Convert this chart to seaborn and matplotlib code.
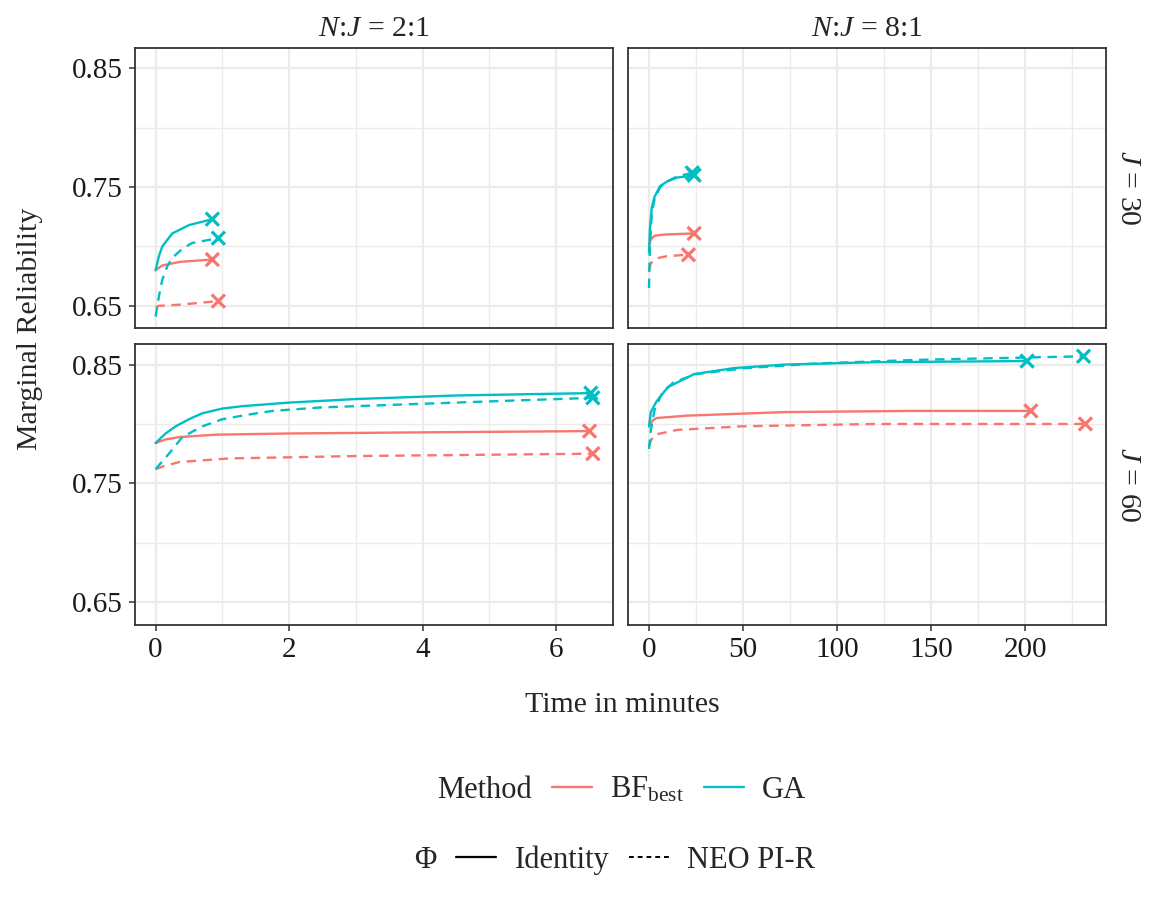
import numpy as np
import pandas as pd
import matplotlib.pyplot as plt
import seaborn as sns
from matplotlib.lines import Line2D
from matplotlib.ticker import MultipleLocator

# ---- data (time in minutes, marginal reliability) ----
# N:J = 2:1, J = 30
t_21_30_bf_id = [0, 0.1, 0.36, 0.6, 0.85]
r_21_30_bf_id = [0.680, 0.684, 0.687, 0.688, 0.689]
t_21_30_bf_neo = [0, 0.05, 0.36, 0.94]
r_21_30_bf_neo = [0.649, 0.650, 0.651, 0.654]
t_21_30_ga_id = [0, 0.05, 0.1, 0.25, 0.5, 0.85]
r_21_30_ga_id = [0.680, 0.692, 0.700, 0.711, 0.718, 0.723]
t_21_30_ga_neo = [0, 0.05, 0.1, 0.18, 0.26, 0.4, 0.55, 0.75, 0.94]
r_21_30_ga_neo = [0.641, 0.658, 0.672, 0.684, 0.691, 0.698, 0.703, 0.705, 0.707]

# N:J = 8:1, J = 30
t_81_30_bf_id = [0, 1, 3, 8, 24]
r_81_30_bf_id = [0.700, 0.706, 0.709, 0.710, 0.711]
t_81_30_bf_neo = [0, 1, 4, 10, 21]
r_81_30_bf_neo = [0.680, 0.686, 0.690, 0.692, 0.693]
t_81_30_ga_id = [0, 0.5, 1.5, 3, 6, 10, 15, 24]
r_81_30_ga_id = [0.695, 0.715, 0.733, 0.742, 0.751, 0.755, 0.758, 0.760]
t_81_30_ga_neo = [0, 0.5, 1.5, 3, 6, 10, 15, 23]
r_81_30_ga_neo = [0.665, 0.700, 0.728, 0.740, 0.750, 0.755, 0.759, 0.762]

# N:J = 2:1, J = 60
t_21_60_bf_id = [0, 0.15, 0.36, 0.9, 2.0, 4.1, 6.5]
r_21_60_bf_id = [0.784, 0.787, 0.789, 0.791, 0.792, 0.793, 0.794]
t_21_60_bf_neo = [0, 0.15, 0.36, 1.1, 3.0, 6.55]
r_21_60_bf_neo = [0.762, 0.765, 0.768, 0.771, 0.773, 0.775]
t_21_60_ga_id = [0, 0.15, 0.3, 0.5, 0.7, 1.0, 1.3, 2.0, 3.0, 4.5, 6.52]
r_21_60_ga_id = [0.784, 0.792, 0.798, 0.804, 0.809, 0.813, 0.815, 0.818, 0.821, 0.824, 0.826]
t_21_60_ga_neo = [0, 0.2, 0.4, 0.7, 1.0, 1.4, 1.75, 2.5, 4.0, 5.5, 6.55]
r_21_60_ga_neo = [0.762, 0.775, 0.789, 0.798, 0.804, 0.808, 0.811, 0.814, 0.817, 0.820, 0.822]

# N:J = 8:1, J = 60
t_81_60_bf_id = [0, 2, 4, 20, 72, 140, 203]
r_81_60_bf_id = [0.798, 0.803, 0.805, 0.807, 0.810, 0.811, 0.811]
t_81_60_bf_neo = [0, 1, 3, 15, 49, 120, 232]
r_81_60_bf_neo = [0.781, 0.786, 0.791, 0.795, 0.798, 0.800, 0.800]
t_81_60_ga_id = [0, 1, 4, 10, 24, 45, 72, 120, 201]
r_81_60_ga_id = [0.798, 0.810, 0.819, 0.831, 0.842, 0.847, 0.850, 0.852, 0.853]
t_81_60_ga_neo = [0, 1, 3, 7, 13, 25, 51, 90, 143, 231]
r_81_60_ga_neo = [0.779, 0.795, 0.812, 0.826, 0.835, 0.842, 0.847, 0.851, 0.854, 0.857]

ratios = ["2:1", "8:1"]
items = [30, 60]
methods = ["BF", "GA"]
phis = ["Identity", "NEO PI-R"]
colors = {"BF": "#F8766D", "GA": "#00BFC4"}

series = {
    ("2:1", 30, "BF", "Identity"): (t_21_30_bf_id, r_21_30_bf_id),
    ("2:1", 30, "BF", "NEO PI-R"): (t_21_30_bf_neo, r_21_30_bf_neo),
    ("2:1", 30, "GA", "Identity"): (t_21_30_ga_id, r_21_30_ga_id),
    ("2:1", 30, "GA", "NEO PI-R"): (t_21_30_ga_neo, r_21_30_ga_neo),
    ("8:1", 30, "BF", "Identity"): (t_81_30_bf_id, r_81_30_bf_id),
    ("8:1", 30, "BF", "NEO PI-R"): (t_81_30_bf_neo, r_81_30_bf_neo),
    ("8:1", 30, "GA", "Identity"): (t_81_30_ga_id, r_81_30_ga_id),
    ("8:1", 30, "GA", "NEO PI-R"): (t_81_30_ga_neo, r_81_30_ga_neo),
    ("2:1", 60, "BF", "Identity"): (t_21_60_bf_id, r_21_60_bf_id),
    ("2:1", 60, "BF", "NEO PI-R"): (t_21_60_bf_neo, r_21_60_bf_neo),
    ("2:1", 60, "GA", "Identity"): (t_21_60_ga_id, r_21_60_ga_id),
    ("2:1", 60, "GA", "NEO PI-R"): (t_21_60_ga_neo, r_21_60_ga_neo),
    ("8:1", 60, "BF", "Identity"): (t_81_60_bf_id, r_81_60_bf_id),
    ("8:1", 60, "BF", "NEO PI-R"): (t_81_60_bf_neo, r_81_60_bf_neo),
    ("8:1", 60, "GA", "Identity"): (t_81_60_ga_id, r_81_60_ga_id),
    ("8:1", 60, "GA", "NEO PI-R"): (t_81_60_ga_neo, r_81_60_ga_neo),
}

rows = []
for (nj, j, m, phi), (ts, rs) in series.items():
    for t, r in zip(ts, rs):
        rows.append({"NJ": nj, "J": j, "Method": m, "Phi": phi, "Time": t, "Rel": r})
df = pd.DataFrame(rows)
ends = df.groupby(["NJ", "J", "Method", "Phi"], as_index=False).last()

# ---- style ----
sns.set_style("ticks")
plt.rcParams["font.family"] = ["Liberation Serif", "DejaVu Serif"]
plt.rcParams["mathtext.fontset"] = "custom"
plt.rcParams["mathtext.rm"] = "Liberation Serif"
plt.rcParams["mathtext.it"] = "Liberation Serif:italic"

FS = 21      # tick labels
FS_LAB = 21.5  # axis titles / strips
FS_LEG = 22

fig, axes = plt.subplots(2, 2, figsize=(11.53, 9.08), dpi=100, sharey=True, sharex="col")
fig.subplots_adjust(left=0.117, right=0.959, top=0.947, bottom=0.312, wspace=0.031, hspace=0.057)

for i, j in enumerate(items):
    for k, nj in enumerate(ratios):
        ax = axes[i, k]
        sub = df[(df["NJ"] == nj) & (df["J"] == j)]
        sub_end = ends[(ends["NJ"] == nj) & (ends["J"] == j)]
        sns.lineplot(data=sub, x="Time", y="Rel", hue="Method", style="Phi",
                     hue_order=methods, style_order=phis, palette=colors,
                     dashes={"Identity": "", "NEO PI-R": (4, 2.8)},
                     lw=1.7, estimator=None, legend=False, ax=ax)
        sns.scatterplot(data=sub_end, x="Time", y="Rel", hue="Method",
                        hue_order=methods, palette=colors, marker="x",
                        s=90, linewidth=2.3, legend=False, ax=ax, zorder=5)
        ax.set_xlabel("")
        ax.set_ylabel("")
        ax.set_ylim(0.631, 0.867)
        ax.yaxis.set_minor_locator(MultipleLocator(0.05))
        ax.set_yticks([0.65, 0.75, 0.85])
        ax.set_yticklabels(["0.65", "0.75", "0.85"])
        if k == 0:
            ax.set_xlim(-0.31, 6.85)
            ax.xaxis.set_major_locator(MultipleLocator(2))
            ax.xaxis.set_minor_locator(MultipleLocator(1))
        else:
            ax.set_xlim(-11.3, 242.8)
            ax.xaxis.set_major_locator(MultipleLocator(50))
            ax.xaxis.set_minor_locator(MultipleLocator(25))
        ax.grid(which="major", color="#EBEBEB", lw=1.6)
        ax.grid(which="minor", color="#EBEBEB", lw=1.0)
        ax.set_axisbelow(True)
        for sp in ax.spines.values():
            sp.set_visible(True)
            sp.set_color("#333333")
            sp.set_linewidth(1.3)
        ax.tick_params(which="major", length=4.5, width=1.1, color="#333333",
                       labelsize=FS, labelcolor="#1a1a1a", pad=4)
        ax.tick_params(which="minor", length=0)
        if i == 0:
            ax.tick_params(axis="x", which="both", length=0)
            ax.set_title(r"$N$:$J$ = " + nj, fontsize=FS_LAB, pad=9)
        if k == 1:
            ax.tick_params(axis="y", which="both", length=0)
            ax.text(1.02, 0.5, r"$J$ = " + str(j), transform=ax.transAxes,
                    rotation=270, va="center", ha="left", fontsize=FS_LAB)

fig.text(0.026, 0.638, "Marginal Reliability", rotation=90, va="center",
         ha="center", fontsize=FS_LAB)
fig.text(0.540, 0.224, "Time in minutes", va="center", ha="center", fontsize=FS_LAB)

# ---- legends (title inline, left of the keys) ----
blank = Line2D([], [], color="none")
h_method = [blank,
            Line2D([], [], color=colors["BF"], lw=1.7),
            Line2D([], [], color=colors["GA"], lw=1.7)]
l_method = ["Method", r"BF$_{\mathrm{best}}$", "GA"]
leg1 = fig.legend(h_method, l_method, ncol=3, frameon=False, fontsize=FS_LEG,
                  loc="center", bbox_to_anchor=(0.514, 0.13),
                  handlelength=1.3, handletextpad=0.6, columnspacing=0.65)

h_phi = [blank,
         Line2D([], [], color="black", lw=1.6),
         Line2D([], [], color="black", lw=1.4, dashes=(2.5, 2))]
l_phi = ["\u03a6", "Identity", "NEO PI-R"]
leg2 = fig.legend(h_phi, l_phi, ncol=3, frameon=False, fontsize=FS_LEG,
                  loc="center", bbox_to_anchor=(0.508, 0.053),
                  handlelength=1.3, handletextpad=0.6, columnspacing=0.65)

fig.savefig("out.png", dpi=100)
